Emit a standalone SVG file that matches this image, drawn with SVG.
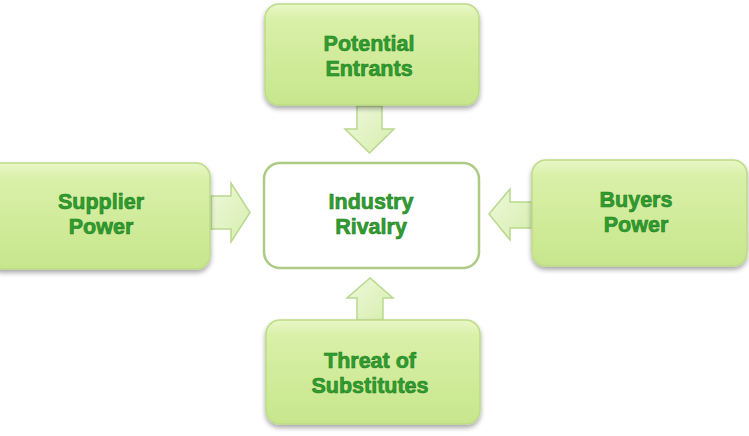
<svg xmlns="http://www.w3.org/2000/svg" width="749" height="436" viewBox="0 0 749 436">
<defs>
<linearGradient id="boxg" x1="0" y1="0" x2="0" y2="1">
<stop offset="0" stop-color="#e9f7c8"/>
<stop offset="0.15" stop-color="#d9f0a8"/>
<stop offset="1" stop-color="#c7e68c"/>
</linearGradient>
<linearGradient id="arrg" x1="0" y1="0" x2="1" y2="1">
<stop offset="0" stop-color="#eef8da"/>
<stop offset="1" stop-color="#d6eeae"/>
</linearGradient>
<filter id="sh" x="-10%" y="-10%" width="120%" height="130%">
<feGaussianBlur in="SourceAlpha" stdDeviation="2.5"/>
<feOffset dx="0" dy="3" result="b"/>
<feComponentTransfer><feFuncA type="linear" slope="0.35"/></feComponentTransfer>
<feMerge><feMergeNode/><feMergeNode in="SourceGraphic"/></feMerge>
</filter>
</defs>
<style>
.box{fill:url(#boxg);stroke:#bcdc86;stroke-width:1.5;filter:url(#sh)}
.center{fill:#ffffff;stroke:#aecb86;stroke-width:2.5}
.arr{fill:url(#arrg);stroke:#b9d98e;stroke-width:1.5;stroke-linejoin:miter}
text{font-family:"Liberation Sans",Arial,sans-serif;font-weight:bold;font-size:21.5px;fill:#2f9e2f;stroke:#1f7d1f;stroke-width:0.6;text-anchor:middle}
</style>
<g id="connectors">
<path class="arr" d="M357,106 L382,106 L382,129 L394,129 L369.5,153 L345,129 L357,129 Z"/>
<path class="arr" d="M211,196 L231,196 L231,183 L250,212.5 L231,242 L231,229 L211,229 Z"/>
<path class="arr" d="M532,202 L510,202 L510,189 L489,214 L510,240 L510,228 L532,228 Z"/>
<path class="arr" d="M357,320 L383,320 L383,298 L393,298 L370,278 L347,298 L357,298 Z"/>
</g>
<g id="potential-entrants">
<rect class="box" x="265" y="4" width="214" height="101" rx="14"/>
<text x="369" y="51">Potential</text>
<text x="369" y="76">Entrants</text>
</g>
<g id="supplier-power">
<rect class="box" x="-12" y="163" width="222" height="106" rx="14"/>
<text x="101" y="209">Supplier</text>
<text x="101" y="234">Power</text>
</g>
<g id="industry-rivalry">
<rect class="center" x="264" y="163" width="215" height="105" rx="16"/>
<text x="371" y="209">Industry</text>
<text x="371" y="234">Rivalry</text>
</g>
<g id="buyers-power">
<rect class="box" x="532" y="160" width="215" height="106" rx="14"/>
<text x="636" y="207">Buyers</text>
<text x="636" y="232">Power</text>
</g>
<g id="threat-of-substitutes">
<rect class="box" x="266" y="320" width="214" height="104" rx="14"/>
<text x="370" y="368">Threat of</text>
<text x="370" y="393">Substitutes</text>
</g>
</svg>
